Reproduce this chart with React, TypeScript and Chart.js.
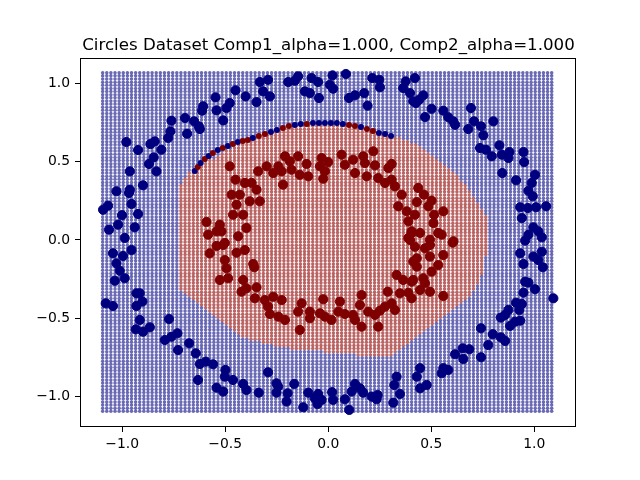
import React, { useEffect, useRef } from "react";
import { Chart, registerables } from "chart.js";

Chart.register(...registerables);

const TITLE = "Circles Dataset Comp1_alpha=1.000, Comp2_alpha=1.000";
const X_TICKS = [-1.0, -0.5, 0.0, 0.5, 1.0];
const Y_TICKS = [-1.0, -0.5, 0.0, 0.5, 1.0];
const X_LIMITS = [-1.205, 1.203];
const Y_LIMITS = [-1.193, 1.161];

// evaluation mesh: [start, stop, step]
const MESH_X = [-1.095, 1.1, 0.02];
const MESH_Y = [-1.093, 1.07, 0.02];

// predicted class-1 (red) region outline
const BOUNDARY: number[][] = [
  [-0.152, 0.746], [0.057, 0.746], [0.309, 0.663], [0.421, 0.619], [0.494, 0.548],
  [0.591, 0.459], [0.679, 0.332], [0.771, 0.14], [0.768, 0.0], [0.762, -0.191],
  [0.688, -0.364], [0.557, -0.491], [0.397, -0.657], [0.309, -0.733], [0.13, -0.733],
  [-0.21, -0.689], [-0.274, -0.67], [-0.405, -0.625], [-0.721, -0.319], [-0.731, 0.287],
  [-0.721, 0.351], [-0.687, 0.415], [-0.648, 0.459], [-0.395, 0.638],
];

// outer circle (class 0)
const OUTER: number[][] = [
  [-0.45, 0.955], [-0.401, 0.916], [-0.547, 0.91], [-0.478, 0.874], [-0.607, 0.853], [-0.542, 0.827],
  [-0.494, 0.842], [-0.612, 0.825], [-0.51, 0.763], [-0.695, 0.778], [-0.761, 0.761], [-0.651, 0.757],
  [-0.628, 0.725], [-0.623, 0.708], [-0.685, 0.678], [-0.766, 0.693], [-0.777, 0.651], [-0.98, 0.625],
  [-0.842, 0.629], [-0.863, 0.612], [-0.923, 0.574], [-0.81, 0.576], [-0.847, 0.527], [-0.87, 0.485],
  [-0.834, 0.438], [-0.963, 0.438], [-0.899, 0.349], [-1.028, 0.311], [-0.963, 0.321], [-0.967, 0.3],
  [-0.955, 0.23], [-1.069, 0.219], [-1.093, 0.193], [-1.001, 0.158], [-0.923, 0.166], [-1.02, 0.098],
  [-1.064, 0.066], [-0.939, 0.081], [-0.988, 0.013],
  [-0.332, 1.008], [-0.292, 1.022], [-0.316, 0.948], [-0.283, 0.916], [-0.348, 0.88], [-0.194, 1.008],
  [-0.162, 1.016], [-0.146, 1.044], [-0.081, 1.033], [-0.049, 1.008], [0.021, 1.05], [0.086, 1.059],
  [0.008, 0.99], [0.024, 0.965], [-0.113, 0.948], [-0.089, 0.937], [-0.045, 0.906], [0.101, 0.906],
  [0.13, 0.923], [0.175, 0.937], [0.191, 0.857], [0.214, 1.033], [0.248, 1.022], [0.251, 0.974],
  [0.376, 1.012], [0.364, 0.969], [0.397, 0.937], [0.413, 0.885],
  [0.421, 1.033], [0.462, 0.923], [0.442, 0.895], [0.426, 0.874], [0.502, 0.837], [0.47, 0.784],
  [0.559, 0.825], [0.583, 0.783], [0.607, 0.757], [0.616, 0.735], [0.693, 0.842], [0.708, 0.757],
  [0.742, 0.725], [0.802, 0.757], [0.68, 0.708], [0.753, 0.668], [0.737, 0.587], [0.766, 0.576],
  [0.794, 0.534], [0.831, 0.604], [0.843, 0.544], [0.88, 0.561], [0.875, 0.523], [0.948, 0.561],
  [0.951, 0.497], [0.845, 0.427], [0.912, 0.381], [1.004, 0.416], [0.988, 0.364], [0.972, 0.314],
  [0.993, 0.279], [1.058, 0.215], [1.009, 0.209], [0.932, 0.209], [0.969, 0.204], [0.94, 0.14],
  [0.996, 0.081], [1.02, 0.055], [1.037, 0.017], [0.956, -0.004], [0.972, 0.034],
  [-0.955, -0.064], [-1.045, -0.085], [-0.996, -0.102], [-1.028, -0.149], [-1.012, -0.196],
  [-1.036, -0.26], [-0.988, -0.244], [-0.931, -0.34], [-0.915, -0.34], [-0.902, -0.393],
  [-0.931, -0.421], [-1.08, -0.404], [-1.045, -0.421], [-0.915, -0.51], [-0.934, -0.57],
  [-0.899, -0.585], [-0.866, -0.557], [-0.773, -0.504], [-0.793, -0.638], [-0.761, -0.617],
  [-0.732, -0.595], [-0.729, -0.702], [-0.675, -0.659], [-0.643, -0.723], [-0.623, -0.791],
  [-0.594, -0.776], [-0.559, -0.793], [-0.632, -0.893], [-0.499, -0.829], [-0.502, -0.872],
  [-0.462, -0.893], [-0.542, -0.942], [-0.51, -0.967], [-0.413, -0.918], [-0.397, -0.957],
  [-0.292, -0.844], [-0.337, -0.974], [-0.251, -0.914], [-0.243, -0.936], [-0.251, -0.974],
  [-0.197, -0.978], [-0.202, -1.031], [-0.165, -0.918], [-0.121, -1.067], [-0.097, -0.974],
  [-0.049, -0.982], [-0.065, -1.01], [-0.032, -1.02], [-0.052, -1.046], [0.019, -0.971],
  [0.024, -1.02], [0.081, -1.016], [0.102, -1.084], [0.114, -0.967], [0.13, -0.918],
  [0.154, -0.946], [0.17, -0.974], [0.211, -0.999], [0.235, -1.016], [0.24, -0.989],
  [0.316, -1.038], [0.321, -0.925], [0.332, -0.872], [0.348, -0.982],
  [0.932, -0.085], [0.996, -0.106], [1.037, -0.075], [1.02, -0.128], [0.948, -0.153],
  [1.042, -0.174], [0.956, -0.266], [0.972, -0.272], [1.004, -0.314], [0.948, -0.336],
  [1.093, -0.372], [0.912, -0.4], [0.94, -0.408], [0.928, -0.446], [0.875, -0.446],
  [0.838, -0.495], [0.859, -0.478], [0.932, -0.515], [0.907, -0.521], [0.883, -0.548],
  [0.742, -0.563], [0.799, -0.601], [0.838, -0.621], [0.859, -0.644], [0.777, -0.67],
  [0.653, -0.691], [0.685, -0.697], [0.616, -0.729], [0.656, -0.759], [0.742, -0.748],
  [0.559, -0.818], [0.583, -0.829], [0.551, -0.85], [0.446, -0.818], [0.43, -0.872],
  [0.478, -0.925], [0.446, -0.946],
];

// inner circle (class 1)
const INNER: number[][] = [
  [-0.478, 0.47], [-0.45, 0.385], [-0.405, 0.364], [-0.469, 0.289], [-0.429, 0.289], [-0.445, 0.225],
  [-0.462, 0.161], [-0.413, 0.161], [-0.591, 0.115], [-0.526, 0.098], [-0.518, 0.055], [-0.542, 0.055],
  [-0.583, 0.034], [-0.437, 0.024], [-0.397, 0.077], [-0.502, -0.019],
  [-0.21, 0.534], [-0.146, 0.534], [-0.105, 0.485], [-0.186, 0.502], [-0.242, 0.47], [-0.299, 0.47],
  [-0.34, 0.438], [-0.267, 0.427], [-0.226, 0.438], [-0.178, 0.448], [-0.138, 0.416], [-0.097, 0.406],
  [-0.219, 0.353], [-0.372, 0.364], [-0.348, 0.321], [-0.332, 0.247], [-0.381, 0.247], [-0.032, 0.523],
  [0.0, 0.497], [-0.04, 0.47], [-0.016, 0.438], [-0.024, 0.391], [0.065, 0.544], [0.081, 0.48],
  [0.121, 0.512], [0.17, 0.534], [0.178, 0.491], [0.13, 0.427], [0.219, 0.566], [0.227, 0.476],
  [0.187, 0.406], [0.243, 0.395], [0.292, 0.459], [0.308, 0.485], [0.308, 0.385], [0.276, 0.364],
  [0.324, 0.342], [0.357, 0.289], [0.34, 0.215], [0.381, 0.183], [0.389, 0.119], [0.405, 0.055],
  [0.389, 0.013],
  [0.437, 0.332], [0.465, 0.289], [0.43, 0.242], [0.502, 0.251], [0.486, 0.215], [0.514, 0.161],
  [0.559, 0.183], [0.421, 0.161], [0.511, 0.108], [0.446, 0.045], [0.534, 0.045], [0.551, 0.034],
  [0.608, -0.008], [0.494, 0.002], [0.405, 0.045],
  [-0.51, -0.032], [-0.542, -0.038], [-0.575, -0.085], [-0.445, -0.081], [-0.405, -0.064],
  [-0.502, -0.128], [-0.494, -0.18], [-0.526, -0.255], [-0.486, -0.244], [-0.413, -0.255],
  [-0.421, -0.33], [-0.397, -0.308],
  [-0.364, -0.153], [-0.359, -0.174], [-0.348, -0.302], [-0.356, -0.372], [-0.308, -0.383],
  [-0.267, -0.362], [-0.226, -0.383], [-0.292, -0.425], [-0.283, -0.472], [-0.242, -0.489],
  [-0.21, -0.51], [-0.129, -0.404], [-0.146, -0.457], [-0.089, -0.457], [-0.089, -0.499],
  [-0.138, -0.574], [-0.024, -0.378], [-0.04, -0.468], [-0.016, -0.489], [0.016, -0.51],
  [0.057, -0.393], [0.049, -0.457], [0.081, -0.472], [0.121, -0.478], [0.13, -0.51],
  [0.162, -0.351], [0.154, -0.415], [0.162, -0.553], [0.194, -0.457], [0.227, -0.478],
  [0.243, -0.553], [0.251, -0.451], [0.276, -0.425], [0.308, -0.404], [0.324, -0.446],
  [0.289, -0.33], [0.348, -0.34], [0.389, -0.336], [0.332, -0.223], [0.364, -0.255],
  [0.405, -0.266], [0.413, -0.138], [0.397, 0.0],
  [0.43, -0.117], [0.43, -0.17], [0.421, -0.043], [0.47, -0.053], [0.494, -0.032],
  [0.494, -0.106], [0.559, -0.096], [0.534, -0.16], [0.502, -0.202], [0.462, -0.244],
  [0.47, -0.276], [0.413, -0.255], [0.446, -0.319], [0.494, -0.33], [0.559, -0.357],
  [0.405, -0.372], [0.604, -0.017],
];

// small markers on the upper edge of the red region: [x, y, class]
const EDGE: number[][] = [
  [-0.648, 0.44, 0], [-0.633, 0.466, 1], [-0.619, 0.491, 0], [-0.599, 0.517, 1], [-0.58, 0.536, 0],
  [-0.56, 0.555, 1], [-0.536, 0.574, 0], [-0.512, 0.587, 1], [-0.487, 0.599, 0], [-0.463, 0.612, 1],
  [-0.439, 0.625, 0], [-0.415, 0.631, 1], [-0.39, 0.638, 1], [-0.366, 0.651, 0], [-0.337, 0.663, 1],
  [-0.307, 0.676, 1], [-0.278, 0.689, 0], [-0.249, 0.702, 0], [-0.22, 0.714, 1], [-0.191, 0.727, 1],
  [-0.162, 0.733, 0], [-0.133, 0.74, 0], [-0.104, 0.74, 1], [-0.074, 0.746, 0], [-0.045, 0.746, 0],
  [-0.016, 0.746, 0], [0.013, 0.746, 0], [0.042, 0.746, 0], [0.071, 0.74, 0], [0.101, 0.733, 1],
  [0.13, 0.727, 1], [0.159, 0.721, 0], [0.188, 0.708, 1], [0.217, 0.695, 1], [0.246, 0.683, 0],
  [0.276, 0.676, 0], [0.305, 0.663, 0],
];

const BLUE = "#00007f";
const RED = "#7f0000";
const MESH_BLUE = "rgba(20,20,140,0.64)";
const MESH_RED = "rgba(150,20,20,0.66)";

function insideBoundary(x: number, y: number): boolean {
  let inside = false;
  for (let i = 0, j = BOUNDARY.length - 1; i < BOUNDARY.length; j = i++) {
    const [xi, yi] = BOUNDARY[i];
    const [xj, yj] = BOUNDARY[j];
    if (yi > y !== yj > y && x < ((xj - xi) * (y - yi)) / (yj - yi) + xi) inside = !inside;
  }
  return inside;
}

function fmt(v: number): string {
  const s = Math.abs(v).toFixed(1);
  return v < -1e-9 ? "\u2212" + s : s;
}

export default function App() {
  const ref = useRef<HTMLCanvasElement>(null);
  useEffect(() => {
    if (!ref.current) return;
    const meshBlue: { x: number; y: number }[] = [];
    const meshRed: { x: number; y: number }[] = [];
    for (let y = MESH_Y[0]; y <= MESH_Y[1] + 1e-9; y += MESH_Y[2]) {
      for (let x = MESH_X[0]; x <= MESH_X[1] + 1e-9; x += MESH_X[2]) {
        (insideBoundary(x, y) ? meshRed : meshBlue).push({ x, y });
      }
    }
    const toPts = (arr: number[][]) => arr.map((p) => ({ x: p[0], y: p[1] }));
    const edgeColors = EDGE.map((p) => (p[2] === 1 ? RED : BLUE));

    const frame = {
      id: "frame",
      afterDraw(chart: any) {
        const { ctx, chartArea } = chart;
        ctx.save();
        ctx.strokeStyle = "#000";
        ctx.lineWidth = 1;
        ctx.strokeRect(
          Math.round(chartArea.left) + 0.5,
          Math.round(chartArea.top) + 0.5,
          Math.round(chartArea.right - chartArea.left) - 1,
          Math.round(chartArea.bottom - chartArea.top) - 1
        );
        ctx.fillStyle = "#000";
        ctx.font = '16.67px "DejaVu Sans"';
        ctx.textAlign = "center";
        ctx.textBaseline = "alphabetic";
        ctx.fillText(TITLE, (chartArea.left + chartArea.right) / 2 + 0.5, 50);
        ctx.restore();
      },
    };

    const tickFont = { family: "DejaVu Sans", size: 13.9 };
    const chart = new Chart(ref.current, {
      type: "scatter",
      data: {
        datasets: [
          {
            data: toPts(OUTER),
            backgroundColor: BLUE,
            borderColor: BLUE,
            borderWidth: 1,
            pointRadius: 4.6,
            order: 1,
          },
          {
            data: toPts(INNER),
            backgroundColor: RED,
            borderColor: RED,
            borderWidth: 1,
            pointRadius: 4.6,
            order: 1,
          },
          {
            data: toPts(EDGE),
            backgroundColor: edgeColors,
            borderColor: edgeColors,
            borderWidth: 0,
            pointRadius: 3,
            order: 2,
          },
          {
            data: meshBlue,
            backgroundColor: MESH_BLUE,
            borderWidth: 0,
            pointRadius: 1.75,
            order: 3,
          },
          {
            data: meshRed,
            backgroundColor: MESH_RED,
            borderWidth: 0,
            pointRadius: 1.75,
            order: 3,
          },
        ] as any,
      },
      options: {
        animation: false,
        responsive: false,
        devicePixelRatio: 1,
        events: [],
        layout: { padding: { left: 0, right: 64, top: 58, bottom: 0 } },
        plugins: { legend: { display: false }, tooltip: { enabled: false }, title: { display: false } },
        scales: {
          x: {
            type: "linear",
            min: X_LIMITS[0],
            max: X_LIMITS[1],
            afterFit: (s: any) => {
              s.height = 53;
            },
            afterBuildTicks: (s: any) => {
              s.ticks = X_TICKS.map((v) => ({ value: v }));
            },
            border: { display: false },
            grid: { drawOnChartArea: false, drawTicks: true, tickLength: 5, tickColor: "#000", tickWidth: 1 },
            ticks: { color: "#000", font: tickFont, padding: 4, maxRotation: 0, callback: (v: any) => fmt(Number(v)) },
          },
          y: {
            type: "linear",
            min: Y_LIMITS[0],
            max: Y_LIMITS[1],
            afterFit: (s: any) => {
              s.width = 80;
            },
            afterBuildTicks: (s: any) => {
              s.ticks = Y_TICKS.map((v) => ({ value: v }));
            },
            border: { display: false },
            grid: { drawOnChartArea: false, drawTicks: true, tickLength: 5, tickColor: "#000", tickWidth: 1 },
            ticks: { color: "#000", font: tickFont, padding: 5, callback: (v: any) => fmt(Number(v)) },
          },
        },
      },
      plugins: [frame],
    } as any);
    return () => chart.destroy();
  }, []);

  return (
    <div style={{ position: "absolute", left: 0, top: 0, width: 640, height: 480, background: "#fff" }}>
      <canvas ref={ref} width={640} height={480} style={{ width: 640, height: 480 }} />
    </div>
  );
}
